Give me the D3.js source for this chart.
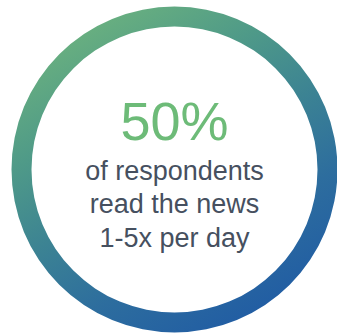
<!DOCTYPE html>
<html>
<head>
<meta charset="utf-8">
<script src="https://cdn.jsdelivr.net/npm/d3@7"></script>
<style>
  html, body { margin: 0; padding: 0; background: #ffffff; }
  svg { display: block; }
</style>
</head>
<body>
<svg id="chart" width="337" height="335"></svg>
<script>
// Headline statistic and its caption
const statValue = [50];
const statSuffix = ["%"];
const captionLines = ["of respondents", "read the news", "1-5x per day"];
// Ring gradient stops (upper-left to lower-right)
const gradientStops = [
  { offset: 0.0, color: "#67ae80" },
  { offset: 0.25, color: "#4f9a88" },
  { offset: 0.5, color: "#3c8393" },
  { offset: 0.75, color: "#2d6d9e" },
  { offset: 1.0, color: "#225ea3" }
];

const svg = d3.select("#chart");
const cx = 174.5, cy = 169.5;
const outerR = 163, innerR = 143;
const gradAngle = 60 * Math.PI / 180;

// Gradient coordinates are in the ring group's local space (origin at centre)
const defs = svg.append("defs");
const grad = defs.append("linearGradient")
  .attr("id", "ringGrad")
  .attr("gradientUnits", "userSpaceOnUse")
  .attr("x1", -outerR * Math.cos(gradAngle)).attr("y1", -outerR * Math.sin(gradAngle))
  .attr("x2", outerR * Math.cos(gradAngle)).attr("y2", outerR * Math.sin(gradAngle));
grad.selectAll("stop").data(gradientStops).enter().append("stop")
  .attr("offset", d => d.offset)
  .attr("stop-color", d => d.color);

const g = svg.append("g").attr("transform", `translate(${cx},${cy})`);

// Full ring, sized by the share scale so 100% closes the circle
const share = d3.scaleLinear().domain([0, 100]).range([0, 2 * Math.PI]);
const arc = d3.arc().innerRadius(innerR).outerRadius(outerR);
g.append("path")
  .attr("d", arc({ startAngle: share(0), endAngle: share(100) }))
  .attr("fill", "url(#ringGrad)");

// Big number
g.append("text")
  .attr("x", 0).attr("y", 140 - cy)
  .attr("text-anchor", "middle")
  .attr("font-family", "Liberation Sans, Arial, sans-serif")
  .attr("font-size", 54)
  .attr("fill", "#6dbb78")
  .text(statValue[0] + statSuffix[0]);

// Caption lines
g.selectAll("text.caption").data(captionLines).enter().append("text")
  .attr("class", "caption")
  .attr("x", 0)
  .attr("y", (d, i) => 180 + i * 33.4 - cy)
  .attr("text-anchor", "middle")
  .attr("font-family", "Liberation Sans, Arial, sans-serif")
  .attr("font-size", 27)
  .attr("fill", "#46505f")
  .text(d => d);
</script>
</body>
</html>
